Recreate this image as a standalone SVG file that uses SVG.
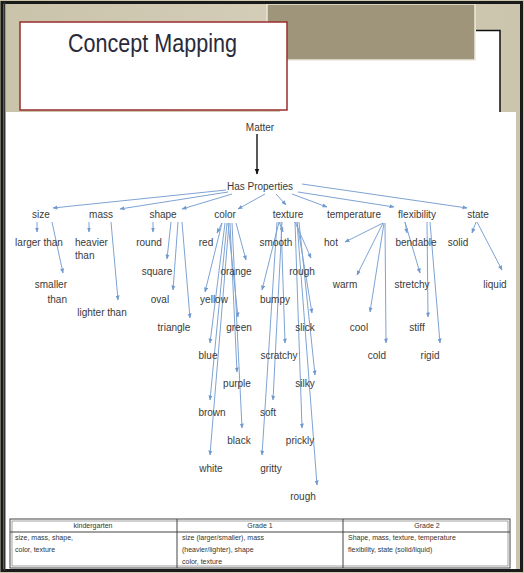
<svg xmlns="http://www.w3.org/2000/svg" width="524" height="573" viewBox="0 0 524 573">
<defs>
<style>
.n{font-family:"Liberation Sans",Arial,sans-serif;font-size:10px;fill:#3a3a3a;text-anchor:middle}
.l{stroke:#7ea3d3;stroke-width:1;fill:none;marker-end:url(#ab)}
.t{font-family:"Liberation Sans",Arial,sans-serif;font-size:7px;fill:#333}
</style>
<marker id="ab" viewBox="0 0 10 10" refX="9" refY="5" markerWidth="5" markerHeight="5" markerUnits="userSpaceOnUse" orient="auto">
<path d="M0,1 L10,5 L0,9 Z" fill="#6f98cf"/>
</marker>
<marker id="ak" viewBox="0 0 10 10" refX="9" refY="5" markerWidth="6" markerHeight="6" markerUnits="userSpaceOnUse" orient="auto">
<path d="M0,1 L10,5 L0,9 Z" fill="#111"/>
</marker>
<linearGradient id="bg" x1="0" y1="0" x2="1" y2="0">
<stop offset="0" stop-color="#c9c3aa"/>
<stop offset="0.5" stop-color="#d3cdb8"/>
<stop offset="1" stop-color="#cbc5ad"/>
</linearGradient>
</defs>
<!-- frame -->
<rect x="0" y="0" width="524" height="573" fill="url(#bg)"/>
<rect x="6" y="112" width="510" height="457" fill="#fff"/>
<rect x="280" y="30" width="220" height="90" fill="#fff"/>
<path d="M476,30.5 H500 V112" stroke="#111" stroke-width="1.5" fill="none"/>
<rect x="267" y="4" width="208" height="56" fill="#9e957b" stroke="#ece8dc" stroke-width="1.5"/>
<rect x="2" y="2.5" width="519.5" height="568" fill="none" stroke="#1a1a1a" stroke-width="3"/>
<line x1="4.5" y1="2" x2="4.5" y2="571" stroke="#333" stroke-width="1.5"/>
<g id="title">
<rect x="20" y="22" width="267" height="88" fill="#fff" stroke="#9a2d2d" stroke-width="1.5"/>
<text x="68" y="52" font-family="'Liberation Sans',Arial,sans-serif" font-size="26" fill="#2a2a3a" textLength="169" lengthAdjust="spacingAndGlyphs">Concept Mapping</text>
</g>
<!-- connectors -->
<g id="connectors">
<line x1="257" y1="134" x2="257" y2="174" stroke="#222" stroke-width="1.5" marker-end="url(#ak)"/>
<path class="l" d="M226,190 L53,208"/>
<path class="l" d="M228,192 L120,209"/>
<path class="l" d="M232,194 L182,209"/>
<path class="l" d="M265,194 L238,209"/>
<path class="l" d="M276,194 L286,205"/>
<path class="l" d="M292,194 L327,207"/>
<path class="l" d="M298,192 L394,207"/>
<path class="l" d="M302,184 L467,208"/>
<!-- size -->
<path class="l" d="M37,222 L37,232"/>
<path class="l" d="M52,222 L63,273"/>
<!-- mass -->
<path class="l" d="M89,222 L89,232"/>
<path class="l" d="M111,222 L118,300"/>
<!-- shape -->
<path class="l" d="M153,222 L153,232"/>
<path class="l" d="M171,222 L167,259"/>
<path class="l" d="M178,222 L173,290"/>
<path class="l" d="M182,222 L190,318"/>
<!-- color -->
<path class="l" d="M222,223 L217,233"/>
<path class="l" d="M236,223 L246,260"/>
<path class="l" d="M222,223 L205,292"/>
<path class="l" d="M228,223 L238,317"/>
<path class="l" d="M225,223 L210,343"/>
<path class="l" d="M230,223 L237,372"/>
<path class="l" d="M227,223 L210,400"/>
<path class="l" d="M232,223 L242,428"/>
<path class="l" d="M229,223 L210,455"/>
<!-- texture -->
<path class="l" d="M279,222 L283,232"/>
<path class="l" d="M295,222 L311,258"/>
<path class="l" d="M279,222 L262,290"/>
<path class="l" d="M297,222 L312,313"/>
<path class="l" d="M281,222 L285,343"/>
<path class="l" d="M299,222 L315,375"/>
<path class="l" d="M282,222 L273,400"/>
<path class="l" d="M295,222 L302,428"/>
<path class="l" d="M277,222 L262,455"/>
<path class="l" d="M297,222 L317,485"/>
<!-- temperature -->
<path class="l" d="M383,223 L345,242"/>
<path class="l" d="M383,223 L357,275"/>
<path class="l" d="M384,223 L370,312"/>
<path class="l" d="M385,223 L386,343"/>
<!-- flexibility -->
<path class="l" d="M405,222 L407,233"/>
<path class="l" d="M405,222 L420,273"/>
<path class="l" d="M427,222 L428,317"/>
<path class="l" d="M430,222 L440,343"/>
<!-- state -->
<path class="l" d="M476,222 L472,233"/>
<path class="l" d="M477,222 L502,270"/>
</g>
<!-- nodes -->
<g id="matter"><text class="n" x="260" y="131">Matter</text></g>
<g id="has-properties"><text class="n" x="260" y="190">Has Properties</text></g>
<g id="size"><text class="n" x="41" y="218">size</text></g>
<g id="mass"><text class="n" x="101" y="218">mass</text></g>
<g id="shape"><text class="n" x="163" y="218">shape</text></g>
<g id="color"><text class="n" x="225" y="218">color</text></g>
<g id="texture"><text class="n" x="288" y="218">texture</text></g>
<g id="temperature"><text class="n" x="354" y="218">temperature</text></g>
<g id="flexibility"><text class="n" x="417" y="218">flexibility</text></g>
<g id="state"><text class="n" x="478" y="218">state</text></g>
<g id="larger-than"><text class="n" x="39" y="246">larger than</text></g>
<g id="smaller-than"><text class="n" x="67" y="288" style="text-anchor:end">smaller</text><text class="n" x="67" y="303" style="text-anchor:end">than</text></g>
<g id="heavier-than"><text class="n" x="75" y="246" style="text-anchor:start">heavier</text><text class="n" x="75" y="259" style="text-anchor:start">than</text></g>
<g id="lighter-than"><text class="n" x="102" y="316">lighter than</text></g>
<g id="round"><text class="n" x="149" y="246">round</text></g>
<g id="square"><text class="n" x="157" y="275">square</text></g>
<g id="oval"><text class="n" x="160" y="303">oval</text></g>
<g id="triangle"><text class="n" x="174" y="331">triangle</text></g>
<g id="red"><text class="n" x="206" y="246">red</text></g>
<g id="orange"><text class="n" x="236" y="275">orange</text></g>
<g id="yellow"><text class="n" x="214" y="303">yellow</text></g>
<g id="green"><text class="n" x="239" y="331">green</text></g>
<g id="blue"><text class="n" x="208" y="359">blue</text></g>
<g id="purple"><text class="n" x="237" y="387">purple</text></g>
<g id="brown"><text class="n" x="212" y="416">brown</text></g>
<g id="black"><text class="n" x="239" y="444">black</text></g>
<g id="white"><text class="n" x="211" y="472">white</text></g>
<g id="smooth"><text class="n" x="276" y="246">smooth</text></g>
<g id="rough-1"><text class="n" x="302" y="275">rough</text></g>
<g id="bumpy"><text class="n" x="275" y="303">bumpy</text></g>
<g id="slick"><text class="n" x="305" y="331">slick</text></g>
<g id="scratchy"><text class="n" x="279" y="359">scratchy</text></g>
<g id="silky"><text class="n" x="305" y="387">silky</text></g>
<g id="soft"><text class="n" x="268" y="416">soft</text></g>
<g id="prickly"><text class="n" x="300" y="444">prickly</text></g>
<g id="gritty"><text class="n" x="271" y="472">gritty</text></g>
<g id="rough-2"><text class="n" x="303" y="500">rough</text></g>
<g id="hot"><text class="n" x="331" y="246">hot</text></g>
<g id="warm"><text class="n" x="345" y="288">warm</text></g>
<g id="cool"><text class="n" x="359" y="331">cool</text></g>
<g id="cold"><text class="n" x="377" y="359">cold</text></g>
<g id="bendable"><text class="n" x="416" y="246">bendable</text></g>
<g id="stretchy"><text class="n" x="412" y="288">stretchy</text></g>
<g id="stiff"><text class="n" x="417" y="331">stiff</text></g>
<g id="rigid"><text class="n" x="430" y="359">rigid</text></g>
<g id="solid"><text class="n" x="458" y="246">solid</text></g>
<g id="liquid"><text class="n" x="495" y="288">liquid</text></g>
<!-- table -->
<g id="grade-table">
<rect x="10" y="519" width="500" height="49" fill="#fff" stroke="#444" stroke-width="1"/>
<rect x="12" y="521" width="496" height="45" fill="none" stroke="#666" stroke-width="0.6"/>
<line x1="10" y1="532" x2="510" y2="532" stroke="#444" stroke-width="1"/>
<line x1="177" y1="519" x2="177" y2="568" stroke="#444" stroke-width="1"/>
<line x1="343" y1="519" x2="343" y2="568" stroke="#444" stroke-width="1"/>
<text class="t" x="93" y="528" text-anchor="middle">kindergarten</text>
<text class="t" x="260" y="528" text-anchor="middle">Grade 1</text>
<text class="t" x="427" y="528" text-anchor="middle">Grade 2</text>
<text class="t" x="15" y="540">size, mass, shape,</text>
<text class="t" x="15" y="552">color, texture</text>
<text class="t" x="182" y="540">size (larger/smaller), mass</text>
<text class="t" x="182" y="552">(heavier/lighter), shape</text>
<text class="t" x="182" y="564">color, texture</text>
<text class="t" x="348" y="540">Shape, mass, texture, temperature</text>
<text class="t" x="348" y="552">flexibility, state (solid/liquid)</text>
</g>
</svg>
